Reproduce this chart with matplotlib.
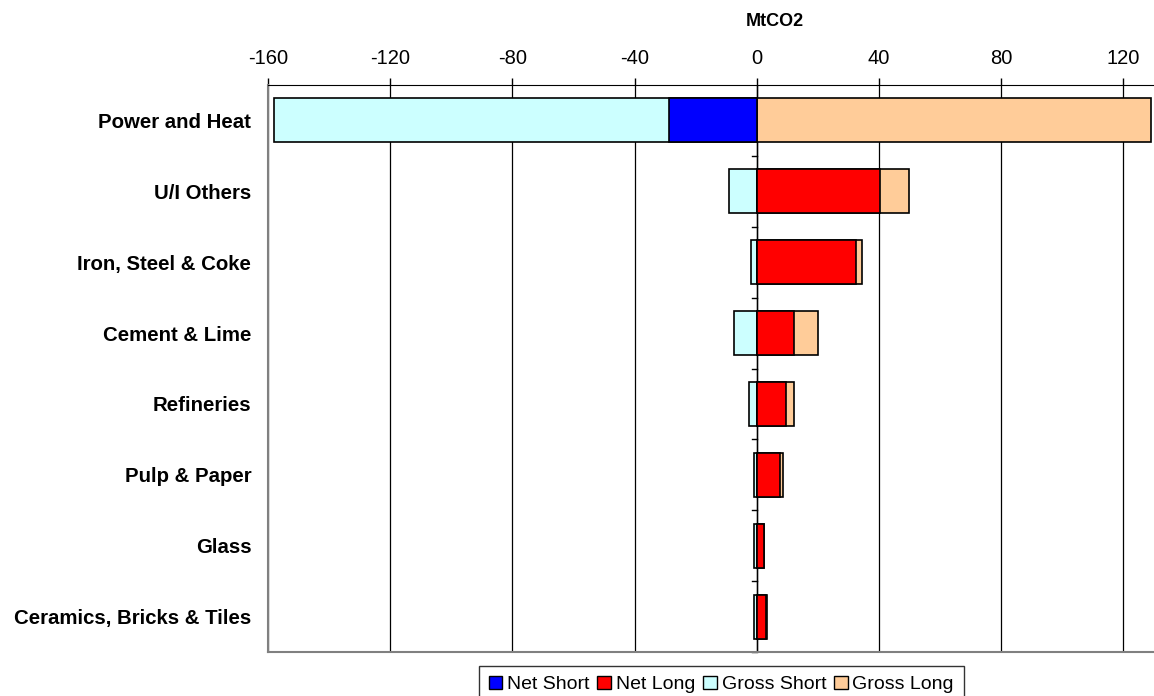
import matplotlib
matplotlib.use("Agg")
import matplotlib.pyplot as plt
from matplotlib.patches import Patch

plt.rcParams['font.family'] = ['Liberation Sans', 'DejaVu Sans']

# sectors, top to bottom
sectors = ["Power and Heat", "U/I Others", "Iron, Steel & Coke", "Cement & Lime",
           "Refineries", "Pulp & Paper", "Glass", "Ceramics, Bricks & Tiles"]
gross_short = [-158, -9.2, -2.0, -7.5, -2.6, -1.0, -1.0, -1.0]
gross_long = [129, 49.7, 34.3, 20.0, 12.1, 8.5, 2.3, 3.3]
net_short = [-28.8, 0, 0, 0, 0, 0, 0, 0]
net_long = [0, 40.2, 32.4, 12.1, 9.5, 7.5, 2.3, 3.0]
xticks = [-160, -120, -80, -40, 0, 40, 80, 120]

colors = {"Net Short": "#0000FF", "Net Long": "#FF0000",
          "Gross Short": "#CCFFFF", "Gross Long": "#FFCC99"}

fig = plt.figure(figsize=(11.54, 6.96), dpi=100)
ax = fig.add_axes([268 / 1154, 1 - 652 / 696, 1 - 268 / 1154, 567 / 696])

ypos = list(range(len(sectors)))
h = 0.62
kw = dict(height=h, edgecolor="black", linewidth=1.2, zorder=3)
ax.barh(ypos, gross_short, color=colors["Gross Short"], **kw)
ax.barh(ypos, gross_long, color=colors["Gross Long"], **kw)
for y, v in zip(ypos, net_short):
    if v != 0:
        ax.barh(y, v, color=colors["Net Short"], **kw)
for y, v in zip(ypos, net_long):
    if v != 0:
        ax.barh(y, v, color=colors["Net Long"], **kw)

ax.set_xlim(-160, 130)
ax.set_ylim(len(sectors) - 0.5, -0.5)
ax.xaxis.tick_top()
ax.set_xticks(xticks)
ax.set_xticklabels([str(t) for t in xticks], fontsize=14.5)
ax.tick_params(axis="x", length=5, width=1, color="black", pad=7)
ax.grid(axis="x", color="black", linewidth=0.9, zorder=0)

ax.set_yticks(ypos)
ax.set_yticklabels(sectors, fontsize=14.7, fontweight="bold")
ax.tick_params(axis="y", length=0, pad=12)

# category separator ticks on the zero line
for b in range(1, len(sectors) + 1):
    ax.plot([-1.7, 0], [b - 0.5, b - 0.5], color="black", lw=1, zorder=2,
            clip_on=False)
ax.axvline(0, color="black", lw=1, zorder=2)

ax.spines["top"].set_color("black")
ax.spines["left"].set_color("#808080")
ax.spines["bottom"].set_color("#808080")
ax.spines["left"].set_linewidth(1.5)
ax.spines["bottom"].set_linewidth(1.5)
ax.spines["right"].set_visible(False)

fig.text(775 / 1154, 1 - 22 / 696, "MtCO2", ha="center", va="center",
         fontsize=13, fontweight="bold")

handles = [Patch(facecolor=colors[k], edgecolor="black", label=k)
           for k in ["Net Short", "Net Long", "Gross Short", "Gross Long"]]
leg = fig.legend(handles=handles, loc="upper left", ncol=4,
                 bbox_to_anchor=(479 / 1154, 1 - 666 / 696), fontsize=14,
                 frameon=True, fancybox=False, edgecolor="black",
                 handlelength=0.7, handleheight=0.7, handletextpad=0.25,
                 columnspacing=0.4, borderpad=0.5, borderaxespad=0)
leg.get_frame().set_linewidth(1)

fig.savefig("out.png", dpi=100)
